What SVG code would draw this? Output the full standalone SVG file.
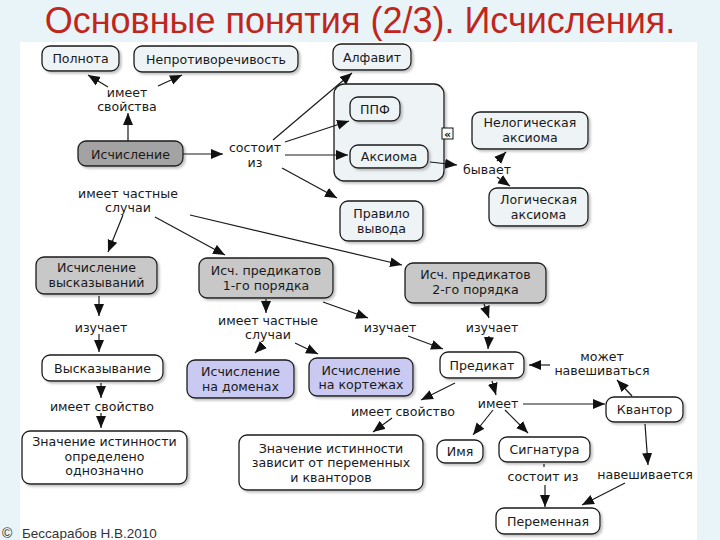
<svg xmlns="http://www.w3.org/2000/svg" width="720" height="540" viewBox="0 0 720 540">
<defs>
<style>
.t{font-family:"DejaVu Sans",Verdana,sans-serif;font-size:12.6px;fill:#1a1a1a;text-anchor:middle}
.n{stroke:#1a1a1a;stroke-width:1.3}
.lt{fill:#eef3f5}
.wh{fill:#ffffff}
.gr{fill:#c8c8c8}
.dg{fill:#a3a3a3}
.lv{fill:#c9c9f2}
.c line,.c path{stroke:#1a1a1a;stroke-width:1.2;fill:none;marker-end:url(#ah)}
</style>
<marker id="ah" markerUnits="userSpaceOnUse" markerWidth="13" markerHeight="11" refX="12" refY="5" orient="auto"><path d="M0,0 L12,5 L0,10 z" fill="#111"/></marker>
<filter id="sh" x="-10%" y="-10%" width="130%" height="140%"><feDropShadow dx="2" dy="2" stdDeviation="1" flood-color="#888" flood-opacity="0.5"/></filter>
</defs>
<rect x="0" y="0" width="720" height="540" fill="#e8f4f7"/>
<rect x="20" y="42" width="677" height="498" fill="#ffffff"/>
<text x="360" y="33" font-family="Liberation Sans,Arial,sans-serif" font-size="36" fill="#c0261c" text-anchor="middle">Основные понятия (2/3). Исчисления.</text>

<g id="container"><rect class="n lt" x="334" y="84" width="110" height="97" rx="10" filter="url(#sh)"/>
<rect x="442" y="128" width="11" height="11" fill="#fff" stroke="#111" stroke-width="1"/><text x="447.5" y="137.5" font-family="DejaVu Sans,sans-serif" font-size="11" font-weight="bold" text-anchor="middle" fill="#111">«</text></g>

<g id="polnota"><rect class="n lt" x="42" y="46" width="77" height="25" rx="8" filter="url(#sh)"/><text class="t" x="80.5" y="63">Полнота</text></g>
<g id="neprotiv"><rect class="n lt" x="134" y="46" width="164" height="26" rx="8" filter="url(#sh)"/><text class="t" x="216" y="63.5">Непротиворечивость</text></g>
<g id="alfavit"><rect class="n lt" x="333" y="44" width="78" height="26" rx="8" filter="url(#sh)"/><text class="t" x="372" y="61.5">Алфавит</text></g>
<g id="ppf"><rect class="n lt" x="350" y="97" width="50" height="24" rx="8" filter="url(#sh)"/><text class="t" x="375" y="113.5">ППФ</text></g>
<g id="aksioma"><rect class="n lt" x="350" y="145" width="78" height="23" rx="8" filter="url(#sh)"/><text class="t" x="389" y="161">Аксиома</text></g>
<g id="nelog"><rect class="n lt" x="472" y="112" width="116" height="37" rx="8" filter="url(#sh)"/><text class="t" x="530" y="127">Нелогическая</text><text class="t" x="530" y="141.5">аксиома</text></g>
<g id="log"><rect class="n lt" x="489" y="188" width="99" height="38" rx="8" filter="url(#sh)"/><text class="t" x="538.5" y="204">Логическая</text><text class="t" x="538.5" y="218.5">аксиома</text></g>
<g id="pravilo"><rect class="n lt" x="340" y="201" width="83" height="40" rx="8" filter="url(#sh)"/><text class="t" x="381.5" y="218">Правило</text><text class="t" x="381.5" y="232.5">вывода</text></g>
<g id="ischislenie"><rect class="n dg" x="78" y="141" width="105" height="25" rx="8" filter="url(#sh)"/><text class="t" x="130.5" y="158.5">Исчисление</text></g>
<g id="iv"><rect class="n gr" x="36" y="257" width="121" height="37" rx="8" filter="url(#sh)"/><text class="t" x="96.5" y="272">Исчисление</text><text class="t" x="96.5" y="286.5">высказываний</text></g>
<g id="ip1"><rect class="n gr" x="199" y="258" width="134" height="40" rx="8" filter="url(#sh)"/><text class="t" x="266" y="275">Исч. предикатов</text><text class="t" x="266" y="289.5">1-го порядка</text></g>
<g id="ip2"><rect class="n gr" x="405" y="263" width="141" height="40" rx="8" filter="url(#sh)"/><text class="t" x="475.5" y="279">Исч. предикатов</text><text class="t" x="475.5" y="293.5">2-го порядка</text></g>
<g id="vysk"><rect class="n wh" x="42" y="355" width="121" height="26" rx="8" filter="url(#sh)"/><text class="t" x="102.5" y="372.5">Высказывание</text></g>
<g id="domeny"><rect class="n lv" x="187" y="360" width="107" height="38" rx="8" filter="url(#sh)"/><text class="t" x="240.5" y="376">Исчисление</text><text class="t" x="240.5" y="390.5">на доменах</text></g>
<g id="kortezhi"><rect class="n lv" x="309" y="358" width="104" height="38" rx="8" filter="url(#sh)"/><text class="t" x="361" y="374.5">Исчисление</text><text class="t" x="361" y="389">на кортежах</text></g>
<g id="predikat"><rect class="n wh" x="440" y="352" width="84" height="26" rx="8" filter="url(#sh)"/><text class="t" x="482" y="369.5">Предикат</text></g>
<g id="kvantor"><rect class="n wh" x="606" y="397" width="77" height="25" rx="8" filter="url(#sh)"/><text class="t" x="644.5" y="414">Квантор</text></g>
<g id="zn1"><rect class="n wh" x="22" y="431" width="165" height="53" rx="8" filter="url(#sh)"/><text class="t" x="104.5" y="446">Значение истинности</text><text class="t" x="104.5" y="460.5">определено</text><text class="t" x="104.5" y="475">однозначно</text></g>
<g id="zn2"><rect class="n wh" x="239" y="435" width="184" height="55" rx="8" filter="url(#sh)"/><text class="t" x="331" y="452.5">Значение истинности</text><text class="t" x="331" y="467">зависит от переменных</text><text class="t" x="331" y="481.5">и кванторов</text></g>
<g id="imya"><rect class="n wh" x="437" y="440" width="46" height="23" rx="8" filter="url(#sh)"/><text class="t" x="460" y="456">Имя</text></g>
<g id="signatura"><rect class="n wh" x="499" y="437" width="91" height="25" rx="8" filter="url(#sh)"/><text class="t" x="544.5" y="454">Сигнатура</text></g>
<g id="peremennaya"><rect class="n wh" x="496" y="508" width="104" height="26" rx="8" filter="url(#sh)"/><text class="t" x="548" y="525.5">Переменная</text></g>

<g id="labels">
<text class="t" x="127" y="96.5">имеет</text><text class="t" x="127" y="111">свойства</text>
<text class="t" x="255" y="152">состоит</text><text class="t" x="255" y="166.5">из</text>
<text class="t" x="128" y="197.5">имеет частные</text><text class="t" x="128" y="212">случаи</text>
<text class="t" x="487" y="173.5">бывает</text>
<text class="t" x="101" y="331.5">изучает</text>
<text class="t" x="268" y="324.5">имеет частные</text><text class="t" x="268" y="339">случаи</text>
<text class="t" x="390" y="331.5">изучает</text>
<text class="t" x="492" y="331.5">изучает</text>
<text class="t" x="602" y="360.5">может</text><text class="t" x="602" y="375">навешиваться</text>
<text class="t" x="102" y="410.5">имеет свойство</text>
<text class="t" x="403" y="416">имеет свойство</text>
<text class="t" x="498" y="408">имеет</text>
<text class="t" x="543" y="481">состоит из</text>
<text class="t" x="645" y="479">навешивается</text>
</g>

<g id="connectors" class="c">
<line x1="128" y1="141" x2="128" y2="113"/>
<line x1="108" y1="87" x2="88" y2="75"/>
<line x1="158" y1="86" x2="182" y2="75"/>
<line x1="183" y1="154" x2="223" y2="154"/>
<line x1="273" y1="140" x2="352" y2="73"/>
<line x1="285" y1="142" x2="349" y2="121"/>
<line x1="285" y1="155" x2="348" y2="155"/>
<line x1="282" y1="168" x2="337" y2="198"/>
<line x1="430" y1="162" x2="457" y2="165"/>
<line x1="497" y1="161" x2="506" y2="152"/>
<line x1="497" y1="177" x2="510" y2="186"/>
<line x1="123" y1="215" x2="108" y2="252"/>
<line x1="155" y1="217" x2="225" y2="255"/>
<line x1="190" y1="215" x2="402" y2="265"/>
<line x1="99" y1="296" x2="99" y2="316"/>
<line x1="99" y1="334" x2="99" y2="352"/>
<line x1="101" y1="383" x2="101" y2="398"/>
<line x1="101" y1="413" x2="101" y2="428"/>
<line x1="266" y1="299" x2="266" y2="313"/>
<line x1="263" y1="345" x2="255" y2="353"/>
<line x1="295" y1="343" x2="318" y2="354"/>
<line x1="323" y1="302" x2="368" y2="318"/>
<line x1="408" y1="336" x2="443" y2="349"/>
<line x1="484" y1="304" x2="489" y2="318"/>
<line x1="489" y1="336" x2="488" y2="349"/>
<line x1="550" y1="365" x2="529" y2="365"/>
<line x1="632" y1="396" x2="617" y2="380"/>
<line x1="455" y1="383" x2="421" y2="400"/>
<line x1="492" y1="381" x2="496" y2="395"/>
<line x1="392" y1="418" x2="373" y2="432"/>
<line x1="493" y1="410" x2="473" y2="435"/>
<line x1="505" y1="410" x2="528" y2="433"/>
<line x1="523" y1="404" x2="605" y2="404"/>
<line x1="645" y1="424" x2="648" y2="465"/>
<line x1="625" y1="483" x2="582" y2="505"/>
<line x1="545" y1="485" x2="545" y2="507"/>
</g>
<line x1="544" y1="464" x2="544" y2="467" stroke="#1a1a1a" stroke-width="1.2"/>

<text x="2" y="538" font-family="Liberation Sans,Arial,sans-serif" font-size="14" fill="#333">©</text>
<text x="22" y="538" font-family="Liberation Sans,Arial,sans-serif" font-size="13.5" fill="#333">Бессарабов Н.В.2010</text>
</svg>
